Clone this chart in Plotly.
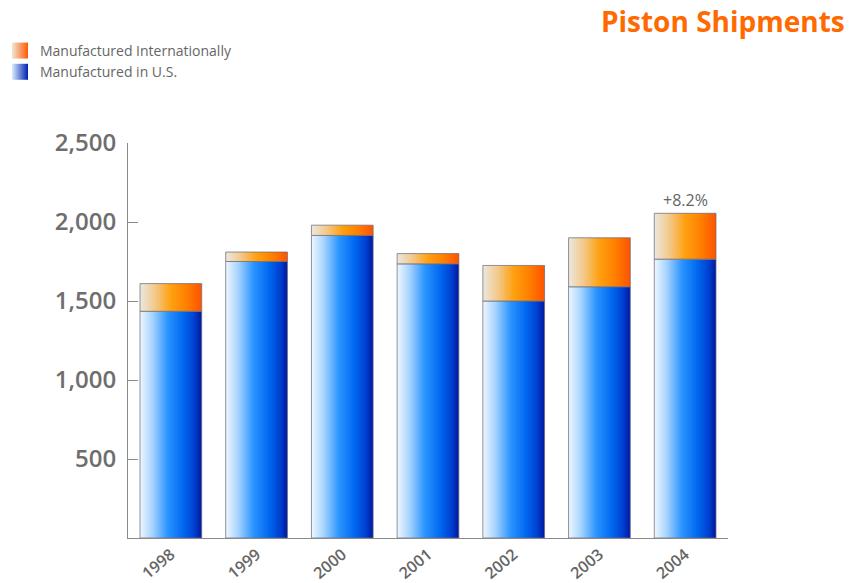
import plotly.graph_objects as go

# ---- data ----
years = ["1998", "1999", "2000", "2001", "2002", "2003", "2004"]
us_units = [1435, 1750, 1915, 1735, 1500, 1590, 1765]
intl_units = [175, 60, 65, 65, 225, 310, 290]
y_ticks = [500, 1000, 1500, 2000, 2500]
y_tick_text = ["500", "1,000", "1,500", "2,000", "2,500"]
growth_label = "+8.2%"
series_names = ["Manufactured Internationally", "Manufactured in U.S."]

# ---- style ----
HALF = 0.36
blue_scale = [[0.0, "#eef7ff"], [0.2, "#a8d4ff"], [0.45, "#2a94ff"],
              [0.7, "#0068f0"], [0.88, "#0040d0"], [1.0, "#0018a0"]]
orange_scale = [[0.0, "#ece8e0"], [0.25, "#f3c888"], [0.5, "#ffa010"],
                [0.75, "#ff8000"], [1.0, "#ff5200"]]
edge = dict(color="rgba(110,110,120,0.75)", width=1)
font_family = "Open Sans"

fig = go.Figure()

for i, (u, n) in enumerate(zip(us_units, intl_units)):
    xs = [i - HALF, i + HALF, i + HALF, i - HALF, i - HALF]
    # U.S. segment
    fig.add_trace(go.Scatter(
        x=xs, y=[0, 0, u, u, 0], mode="lines", fill="toself",
        fillgradient=dict(type="horizontal", colorscale=blue_scale),
        line=edge, name=series_names[1], legendgroup="us",
        showlegend=False, hoverinfo="skip"))
    # International segment
    fig.add_trace(go.Scatter(
        x=xs, y=[u, u, u + n, u + n, u], mode="lines", fill="toself",
        fillgradient=dict(type="horizontal", colorscale=orange_scale),
        line=edge, name=series_names[0], legendgroup="intl",
        showlegend=False, hoverinfo="skip"))

# legend entries (square gradient swatches)
fig.add_trace(go.Scatter(
    x=[None], y=[None], mode="markers", name=series_names[0],
    legendgroup="intl", legendrank=1,
    marker=dict(symbol="square", size=16, color="#f0e6d6",
                gradient=dict(type="horizontal", color="#ff5a00"),
                line=dict(width=0))))
fig.add_trace(go.Scatter(
    x=[None], y=[None], mode="markers", name=series_names[1],
    legendgroup="us", legendrank=2,
    marker=dict(symbol="square", size=16, color="#d8ecff",
                gradient=dict(type="horizontal", color="#0022b0"),
                line=dict(width=0))))

last = len(years) - 1
fig.add_annotation(x=last, y=us_units[last] + intl_units[last], text=growth_label,
                   showarrow=False, yanchor="bottom", yshift=0,
                   font=dict(family=font_family, size=16, color="#666666"))

fig.update_layout(
    width=855, height=583,
    margin=dict(l=128, r=127, t=143, b=45, autoexpand=False),
    paper_bgcolor="white", plot_bgcolor="white",
    title=dict(text="Piston Shipments", x=0.988, xanchor="right",
               y=0.962, yanchor="middle", automargin=False,
               font=dict(family=font_family, size=28, color="#ff6a00",
                         weight=700)),
    legend=dict(xref="container", yref="container", x=0.0, y=0.94,
                xanchor="left", yanchor="top", bgcolor="rgba(0,0,0,0)",
                font=dict(family=font_family, size=14, color="#666666"),
                tracegroupgap=0, itemwidth=30),
    xaxis=dict(range=[-0.5, 6.5], tickvals=list(range(len(years))),
               ticktext=years, tickangle=-40, showgrid=False, zeroline=False,
               showline=True, linecolor="#8a8a8a", linewidth=1, ticks="",
               tickfont=dict(family=font_family, size=16, color="#666666",
                             weight=600)),
    yaxis=dict(range=[0, 2500], tickvals=y_ticks, ticktext=y_tick_text,
               showgrid=False, zeroline=False, showline=True,
               linecolor="#8a8a8a", linewidth=1, ticks="inside", ticklen=10,
               tickcolor="#8a8a8a", ticklabelstandoff=6,
               tickfont=dict(family=font_family, size=24, color="#6e6e6e",
                             weight=600)),
)

fig.write_html("out.html", config={"displayModeBar": False},
               post_script="document.body.style.margin='0';")
